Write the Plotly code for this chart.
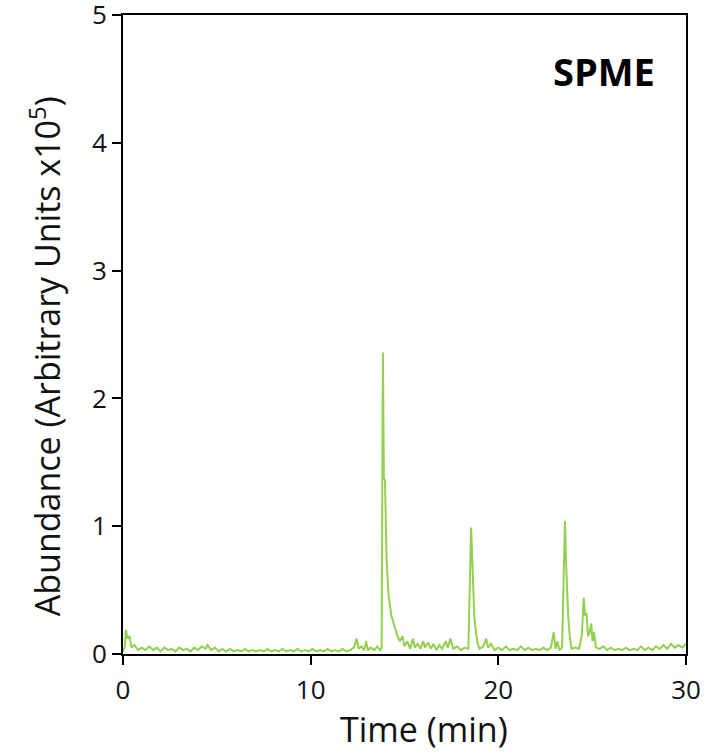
import plotly.graph_objects as go

time_min = [
    0.0, 0.1, 0.15, 0.25, 0.35, 0.45, 0.6, 0.8, 1.0, 1.2, 1.4, 1.6, 1.8, 2.0, 2.2, 2.4, 2.6, 2.8,
    3.0, 3.2, 3.4, 3.6, 3.8, 4.0, 4.2, 4.4, 4.5, 4.7, 4.9, 5.1, 5.3, 5.5, 5.7, 5.9, 6.1, 6.3,
    6.5, 6.7, 6.9, 7.1, 7.3, 7.5, 7.7, 7.9, 8.1, 8.3, 8.5, 8.7, 8.9, 9.1, 9.3, 9.5, 9.7, 9.9,
    10.1, 10.3, 10.5, 10.7, 10.9, 11.1, 11.3, 11.5, 11.7, 11.9, 12.1, 12.3, 12.45, 12.55, 12.7,
    12.85, 12.95, 13.05, 13.2, 13.4, 13.55, 13.7, 13.78, 13.85, 13.9, 13.96, 14.05, 14.15, 14.3,
    14.45, 14.6, 14.75, 14.9, 15.0, 15.15, 15.3, 15.45, 15.55, 15.7, 15.85, 16.0, 16.1, 16.25,
    16.4, 16.55, 16.7, 16.85, 17.0, 17.2, 17.3, 17.45, 17.6, 17.8, 18.0, 18.2, 18.4, 18.48,
    18.55, 18.6, 18.66, 18.72, 18.8, 18.9, 19.0, 19.2, 19.35, 19.45, 19.6, 19.8, 20.0, 20.2,
    20.4, 20.6, 20.8, 21.0, 21.2, 21.4, 21.6, 21.8, 22.0, 22.2, 22.4, 22.6, 22.8, 22.95, 23.05,
    23.15, 23.25, 23.4, 23.48, 23.55, 23.6, 23.66, 23.72, 23.8, 23.9, 24.1, 24.3, 24.45, 24.55,
    24.62, 24.7, 24.78, 24.85, 24.95, 25.02, 25.1, 25.2, 25.4, 25.6, 25.8, 26.0, 26.2, 26.4,
    26.6, 26.8, 27.0, 27.2, 27.4, 27.6, 27.8, 28.0, 28.2, 28.4, 28.6, 28.8, 29.0, 29.2, 29.4,
    29.6, 29.8, 30.0,
]
abundance = [
    0.02, 0.06, 0.19, 0.12, 0.14, 0.05, 0.07, 0.03, 0.05, 0.03, 0.06, 0.03, 0.05, 0.02, 0.05, 0.03, 0.04, 0.02,
    0.05, 0.03, 0.04, 0.02, 0.05, 0.03, 0.06, 0.04, 0.07, 0.03, 0.05, 0.02, 0.04, 0.02, 0.04, 0.02, 0.03, 0.02,
    0.04, 0.02, 0.03, 0.02, 0.03, 0.02, 0.04, 0.02, 0.03, 0.02, 0.04, 0.02, 0.03, 0.02, 0.04, 0.02, 0.03, 0.02,
    0.04, 0.02, 0.03, 0.02, 0.04, 0.02, 0.03, 0.02, 0.04, 0.02, 0.03, 0.05, 0.12, 0.04, 0.06,
    0.03, 0.10, 0.03, 0.05, 0.03, 0.06, 0.03, 0.05, 2.36, 1.38, 1.36, 0.72, 0.46, 0.30,
    0.22, 0.15, 0.10, 0.14, 0.06, 0.10, 0.04, 0.12, 0.05, 0.08, 0.04, 0.10, 0.05, 0.09,
    0.04, 0.08, 0.03, 0.07, 0.04, 0.10, 0.05, 0.12, 0.04, 0.06, 0.03, 0.05, 0.04, 0.45,
    0.99, 0.78, 0.50, 0.30, 0.18, 0.08, 0.04, 0.06, 0.12, 0.05, 0.08, 0.03, 0.05, 0.03,
    0.06, 0.03, 0.04, 0.03, 0.06, 0.03, 0.05, 0.03, 0.04, 0.03, 0.05, 0.03, 0.05, 0.17, 0.04,
    0.10, 0.03, 0.05, 0.60, 1.04, 0.76, 0.52, 0.30, 0.15, 0.04, 0.05, 0.04, 0.15, 0.44,
    0.30, 0.32, 0.14, 0.16, 0.24, 0.10, 0.17, 0.05, 0.04, 0.06, 0.03, 0.05, 0.03, 0.04,
    0.03, 0.05, 0.03, 0.04, 0.03, 0.06, 0.03, 0.05, 0.03, 0.06, 0.04, 0.07, 0.04, 0.08, 0.05,
    0.07, 0.05, 0.08,
]

x_ticks = [0, 10, 20, 30]
y_ticks = [0, 1, 2, 3, 4, 5]
label_text = "SPME"
x_title = "Time (min)"
y_title = "Abundance (Arbitrary Units x10<sup>5</sup>)"

fig = go.Figure()
fig.add_trace(go.Scatter(
    x=time_min, y=abundance, mode="lines",
    line=dict(color="#92D050", width=2), showlegend=False,
))

font_family = "Open Sans, Noto Sans, sans-serif"
axis_common = dict(
    ticks="outside", ticklen=9, tickwidth=2, tickcolor="black",
    showline=True, linecolor="black", linewidth=2, mirror=True,
    showgrid=False, zeroline=False, ticklabeloverflow="allow", automargin=False,
    tickfont=dict(size=26, family=font_family, color="#111111"),
)
fig.update_layout(
    width=708, height=753,
    margin=dict(l=123, r=22, t=15, b=99, autoexpand=False),
    paper_bgcolor="white", plot_bgcolor="white",
    font=dict(family=font_family, color="#111111"),
    xaxis=dict(range=[0, 30], tickvals=x_ticks, ticktext=[str(v) for v in x_ticks],
               ticklabelstandoff=3, **axis_common),
    yaxis=dict(range=[0, 5], tickvals=y_ticks, ticktext=[str(v) for v in y_ticks],
               **axis_common),
    annotations=[
        dict(text="<b>" + label_text + "</b>", xref="paper", yref="paper", x=0.948, y=0.912,
             xanchor="right", yanchor="middle", showarrow=False,
             font=dict(size=38, family=font_family, color="black")),
        dict(text=x_title, xref="paper", yref="paper", x=0.535, y=-0.1174,
             xanchor="center", yanchor="middle", showarrow=False,
             font=dict(size=34, family=font_family, color="#111111")),
        dict(text=y_title, xref="paper", yref="paper", x=-0.1385, y=0.466,
             xanchor="center", yanchor="middle", showarrow=False, textangle=-90,
             font=dict(size=34, family=font_family, color="#111111")),
    ],
)

fig.write_html("out.html")
